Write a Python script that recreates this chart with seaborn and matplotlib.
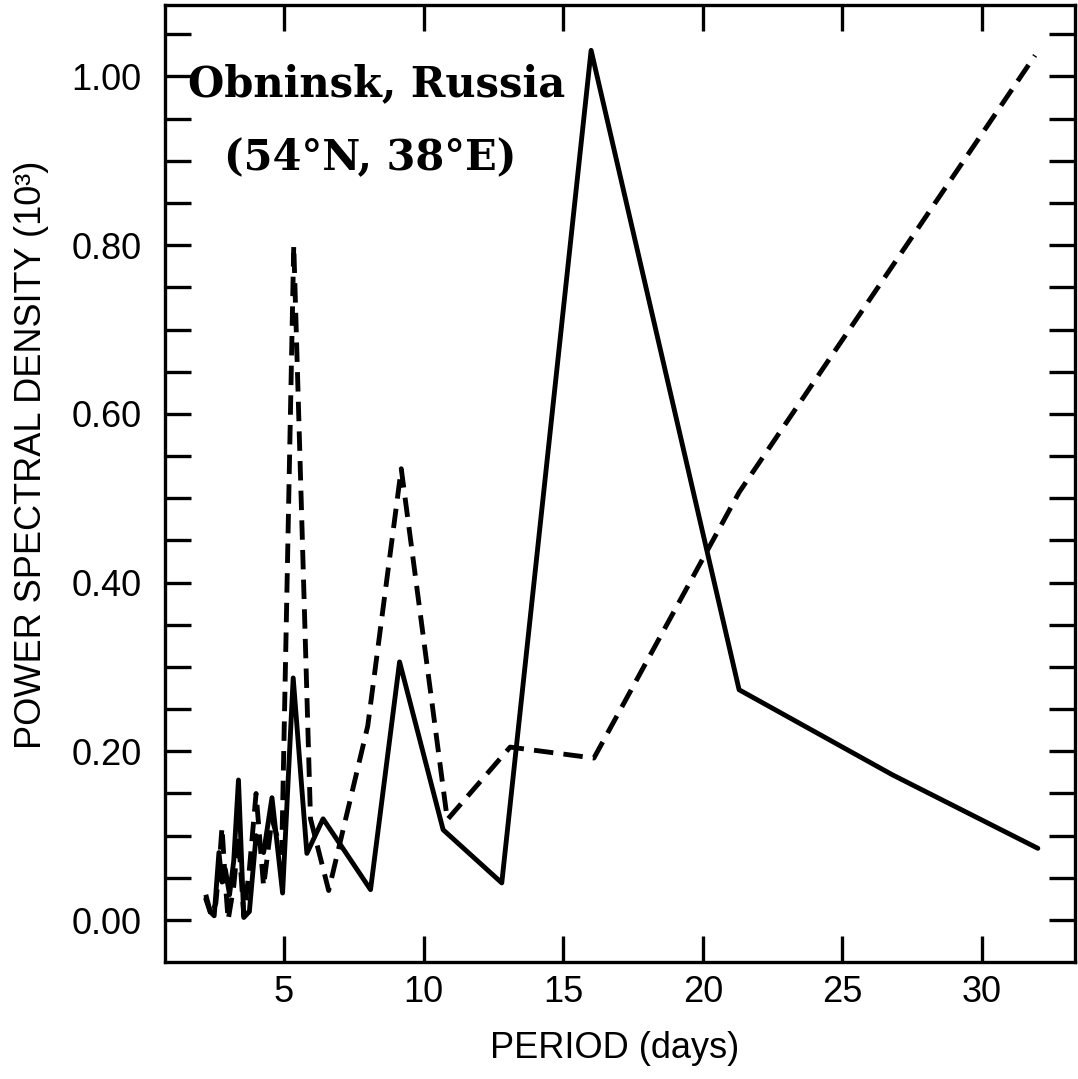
import matplotlib
matplotlib.use("Agg")
import matplotlib.pyplot as plt
import pandas as pd
import seaborn as sns
from matplotlib.ticker import FixedLocator, MultipleLocator

# Power spectral density (x 10^3) against period in days
solid_period = [2.2, 2.35, 2.5, 2.67, 2.78, 2.9, 3.05, 3.2, 3.37, 3.56, 3.76,
                4.0, 4.27, 4.57, 4.95, 5.33, 5.82, 6.4, 8.1, 9.14, 10.7,
                12.8, 16.0, 21.3, 26.8, 32.0]
solid_psd = [0.025, 0.01, 0.005, 0.08, 0.045, 0.06, 0.03, 0.07, 0.166, 0.003,
             0.01, 0.10, 0.08, 0.145, 0.032, 0.287, 0.079, 0.12, 0.036, 0.306,
             0.107, 0.044, 1.031, 0.273, 0.172, 0.085]

dashed_period = [2.2, 2.4, 2.56, 2.67, 2.78, 2.91, 3.0, 3.2, 3.37, 3.56, 3.76,
                 4.0, 4.27, 4.57, 4.92, 5.35, 5.95, 6.6, 8.0, 9.2, 10.85,
                 13.1, 16.1, 21.3, 31.9]
dashed_psd = [0.03, 0.005, 0.02, 0.06, 0.11, 0.04, 0.0, 0.04, 0.10, 0.005,
              0.06, 0.15, 0.04, 0.12, 0.08, 0.80, 0.12, 0.035, 0.23, 0.535,
              0.119, 0.205, 0.192, 0.507, 1.025]

x_ticks = [5, 10, 15, 20, 25, 30]
y_ticks = [0.0, 0.2, 0.4, 0.6, 0.8, 1.0]
y_tick_labels = ["0.00", "0.20", "0.40", "0.60", "0.80", "1.00"]

title_lines = ["Obninsk, Russia", "(54°N, 38°E)"]
x_label = "PERIOD (days)"
y_label = "POWER SPECTRAL DENSITY (10³)"

df = pd.concat([
    pd.DataFrame({"period": solid_period, "psd": solid_psd, "series": "solid"}),
    pd.DataFrame({"period": dashed_period, "psd": dashed_psd, "series": "dashed"}),
], ignore_index=True)

sns.set_theme(style="ticks")
plt.rcParams["font.family"] = ["Liberation Sans", "DejaVu Sans"]

fig = plt.figure(figsize=(10.78, 10.79), dpi=100)
ax = fig.add_axes([0.1531, 0.1084, 0.8441, 0.887])

sns.lineplot(data=df, x="period", y="psd", style="series",
             dashes={"solid": "", "dashed": (4.0, 2.1)},
             color="black", linewidth=3.5, sort=False, estimator=None,
             legend=False, ax=ax)

ax.set_xlim(0.74, 33.33)
ax.set_ylim(-0.0498, 1.0848)

ax.xaxis.set_major_locator(FixedLocator(x_ticks))
ax.set_xticklabels([str(t) for t in x_ticks])
ax.yaxis.set_major_locator(FixedLocator(y_ticks))
ax.set_yticklabels(y_tick_labels)
ax.yaxis.set_minor_locator(MultipleLocator(0.05))

ax.tick_params(axis="both", which="both", direction="in", length=19,
               width=2.4, color="black", top=True, right=True,
               labelsize=26, labelcolor="black")
ax.tick_params(axis="y", which="major", pad=17)
ax.tick_params(axis="x", which="major", pad=9)

for spine in ax.spines.values():
    spine.set_linewidth(2.4)
    spine.set_color("black")

ax.set_xlabel(x_label, fontsize=26, color="black")
ax.set_ylabel(y_label, fontsize=26, color="black")
ax.xaxis.set_label_coords(0.494, -0.072)
ax.yaxis.set_label_coords(-0.128, 0.53)

ax.text(0.233, 0.917, title_lines[0], transform=ax.transAxes,
        ha="center", va="center", fontsize=30, fontweight="bold",
        family="DejaVu Serif", color="black")
ax.text(0.226, 0.840, title_lines[1], transform=ax.transAxes,
        ha="center", va="center", fontsize=30, fontweight="bold",
        family="DejaVu Serif", color="black")

fig.savefig("out.png", dpi=100, facecolor="white")
